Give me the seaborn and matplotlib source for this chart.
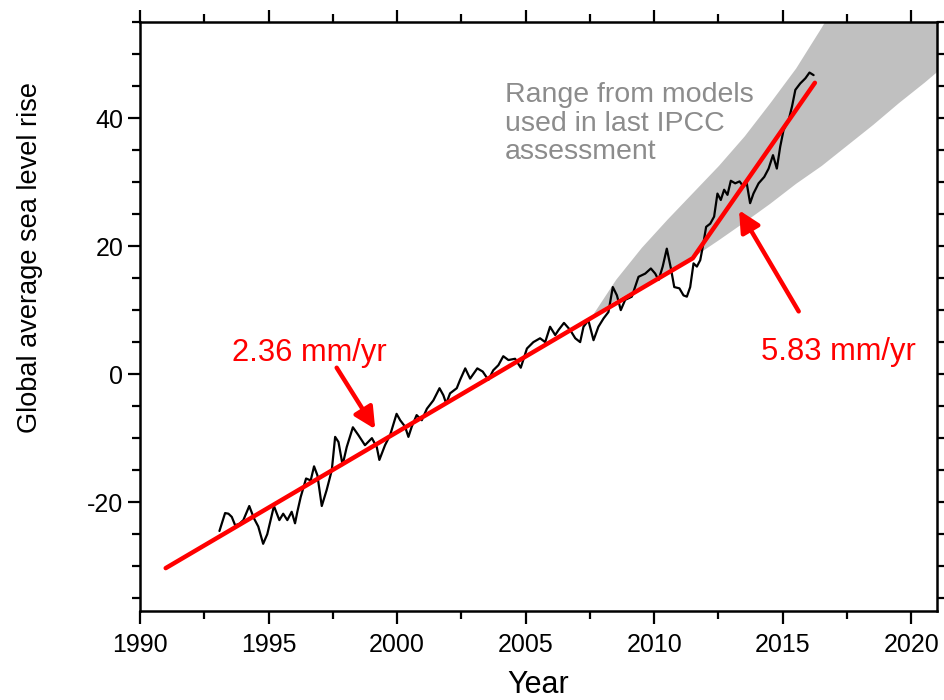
import numpy as np
import pandas as pd
import seaborn as sns
import matplotlib.pyplot as plt
from matplotlib.ticker import MultipleLocator

# satellite record
obs_years = [1993.09, 1993.31, 1993.44, 1993.57, 1993.70, 1993.86, 1994.02, 1994.25, 1994.43, 1994.60,
             1994.79, 1994.95, 1995.21, 1995.42, 1995.57, 1995.73, 1995.90, 1996.03, 1996.12, 1996.25,
             1996.46, 1996.64, 1996.77, 1996.90, 1997.07, 1997.26, 1997.46, 1997.59, 1997.72, 1997.88,
             1998.04, 1998.28, 1998.49, 1998.75, 1999.02, 1999.21, 1999.31, 1999.53, 1999.73, 1999.98,
             2000.12, 2000.31, 2000.44, 2000.57, 2000.76, 2000.96, 2001.16, 2001.41, 2001.65, 2001.80,
             2001.91, 2002.06, 2002.32, 2002.45, 2002.65, 2002.84, 2003.12, 2003.33, 2003.55, 2003.74,
             2003.94, 2004.13, 2004.33, 2004.59, 2004.81, 2005.05, 2005.30, 2005.56, 2005.76, 2005.95,
             2006.15, 2006.28, 2006.49, 2006.73, 2006.93, 2007.12, 2007.25, 2007.44, 2007.64, 2007.83,
             2008.03, 2008.22, 2008.39, 2008.55, 2008.70, 2008.87, 2009.13, 2009.39, 2009.65, 2009.87,
             2010.04, 2010.17, 2010.33, 2010.49, 2010.65, 2010.78, 2010.98, 2011.14, 2011.27, 2011.40,
             2011.53, 2011.66, 2011.79, 2011.89, 2012.02, 2012.18, 2012.33, 2012.46, 2012.59, 2012.72,
             2012.85, 2012.98, 2013.15, 2013.32, 2013.47, 2013.60, 2013.73, 2013.86, 2014.06, 2014.28,
             2014.45, 2014.62, 2014.77, 2014.90, 2015.03, 2015.23, 2015.36, 2015.49, 2015.68, 2015.88,
             2016.04, 2016.20]
obs_level = [-24.5, -21.7, -21.8, -22.3, -23.6, -23.4, -22.8, -20.6, -22.5, -23.8,
             -26.5, -25.0, -20.6, -22.8, -21.8, -22.8, -21.5, -23.3, -21.5, -19.2,
             -16.3, -16.6, -14.4, -15.8, -20.6, -18.1, -15.0, -9.8, -10.6, -14.2,
             -11.4, -8.3, -9.5, -11.1, -10.0, -11.4, -13.4, -11.1, -9.5, -6.2,
             -7.2, -8.2, -9.8, -8.2, -6.4, -7.2, -5.4, -4.1, -2.2, -3.3,
             -4.6, -3.0, -2.2, -0.9, 0.9, -0.7, 0.9, 0.4, -0.9, 0.6,
             1.4, 2.8, 2.2, 2.4, 1.0, 4.0, 5.0, 5.6, 5.0, 7.4,
             6.1, 6.9, 8.0, 6.9, 5.6, 5.0, 7.4, 8.4, 5.3, 7.4,
             8.7, 9.7, 13.6, 12.3, 10.0, 11.6, 12.1, 15.2, 15.7, 16.5,
             15.7, 14.7, 16.8, 19.6, 16.5, 13.6, 13.4, 12.3, 12.1, 13.6,
             17.3, 16.8, 17.8, 19.9, 23.0, 23.5, 24.6, 28.2, 27.2, 28.8,
             28.0, 30.2, 29.8, 30.1, 29.3, 29.8, 26.7, 28.2, 29.8, 30.8,
             32.1, 34.2, 32.1, 35.5, 38.1, 39.7, 41.8, 44.4, 45.4, 46.2,
             47.1, 46.7]

# piecewise linear fit (2.36 then 5.83 mm/yr)
fit_years = [1991.0, 2011.5, 2016.25]
fit_level = [-30.3, 18.1, 45.5]

# IPCC model range
band_years = [2007.6, 2008.5, 2009.5, 2010.5, 2011.5, 2012.5, 2013.5, 2014.5, 2015.5, 2016.5,
              2017.5, 2018.5, 2019.5, 2020.5, 2021.5]
band_low = [9.3, 11.6, 13.8, 16.0, 18.3, 21.0, 23.8, 26.7, 29.8, 32.6,
            35.8, 39.0, 42.4, 45.6, 49.0]
band_high = [9.3, 14.8, 19.8, 24.2, 28.4, 32.6, 37.2, 42.4, 47.8, 54.2,
             61.0, 68.0, 75.0, 82.0, 89.0]

sns.set_theme(style='white')
plt.rcParams['font.family'] = ['Liberation Sans', 'DejaVu Sans']
plt.rcParams['axes.unicode_minus'] = False
plt.rcParams['text.color'] = 'black'
plt.rcParams['axes.labelcolor'] = 'black'

obs = pd.DataFrame({'year': obs_years, 'level': obs_level})
fit = pd.DataFrame({'year': fit_years, 'level': fit_level})

fig = plt.figure(figsize=(9.44, 7), dpi=100)
ax = fig.add_axes([0.1483, 0.1271, 0.8443, 0.8415])

ax.fill_between(band_years, band_low, band_high, color='#c0c0c0', lw=0, zorder=1)
sns.lineplot(data=obs, x='year', y='level', color='black', lw=1.6, estimator=None, sort=False, ax=ax, zorder=3)
sns.lineplot(data=fit, x='year', y='level', color='red', lw=3.2, estimator=None, sort=False, ax=ax, zorder=4)

ax.text(2004.2, 45.6, 'Range from models\nused in last IPCC\nassessment', color='#8c8c8c',
        fontsize=20.5, ha='left', va='top', linespacing=1.12, zorder=2)

arrow = dict(arrowstyle='-|>', color='red', lw=3.2, mutation_scale=32, shrinkA=0, shrinkB=0)
ax.annotate('', xy=(1999.15, -8.6), xytext=(1997.65, 1.0), arrowprops=arrow, zorder=5)
ax.text(1996.6, 3.3, '2.36 mm/yr', color='red', fontsize=22.2, ha='center', va='center')
ax.annotate('', xy=(2013.3, 25.6), xytext=(2015.62, 9.8), arrowprops=arrow, zorder=5)
ax.text(2017.15, 3.4, '5.83 mm/yr', color='red', fontsize=22.2, ha='center', va='center')

ax.set_xlim(1990, 2021)
ax.set_ylim(-37, 55)
ax.xaxis.set_major_locator(MultipleLocator(5))
ax.xaxis.set_minor_locator(MultipleLocator(2.5))
ax.yaxis.set_major_locator(MultipleLocator(20))
ax.yaxis.set_minor_locator(MultipleLocator(5))
ax.tick_params(which='both', direction='out', top=True, right=True, width=1.6, colors='black',
               labelsize=18, bottom=True, left=True)
ax.tick_params(which='major', length=9)
ax.tick_params(which='minor', length=5.5)
ax.tick_params(axis='x', pad=7)
ax.tick_params(axis='y', pad=3)
for s in ax.spines.values():
    s.set_color('black')
    s.set_linewidth(1.8)

ax.set_xlabel('Year', fontsize=22)
ax.set_ylabel('Global average sea level rise', fontsize=19.5)
ax.xaxis.set_label_coords(0.5, -0.1)
ax.yaxis.set_label_coords(-0.122, 0.601)

fig.savefig('out.png', dpi=100)
